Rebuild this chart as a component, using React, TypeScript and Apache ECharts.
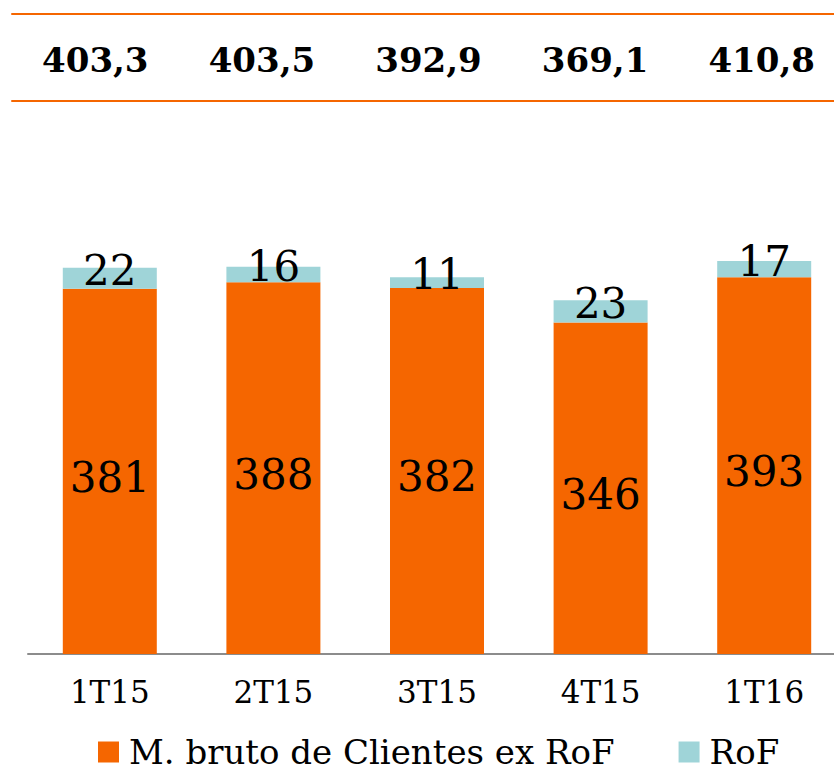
import React, { useEffect, useRef } from "react";
import * as echarts from "echarts";

const categories = ["1T15", "2T15", "3T15", "4T15", "1T16"];
const clientesExRoF = [381, 388, 382, 346, 393];
const rof = [22, 16, 11, 23, 17];
const totals = ["403,3", "403,5", "392,9", "369,1", "410,8"];

const ORANGE = "#F56600";
const TEAL = "#9FD4D8";
const FONT = "DejaVu Serif";

export default function App() {
  const ref = useRef<HTMLDivElement>(null);
  useEffect(() => {
    if (!ref.current) return;
    const chart = echarts.init(ref.current, null, { renderer: "svg" });
    chart.setOption({
      animation: false,
      textStyle: { fontFamily: FONT },
      grid: [
        { left: 28, top: 101, width: 818, height: 553, containLabel: false, outerBoundsMode: "none" },
        { left: 12, top: 14, width: 833, height: 87, containLabel: false, outerBoundsMode: "none" },
      ],
      legend: {
        left: 98,
        top: 735,
        padding: 0,
        itemWidth: 21,
        itemHeight: 21,
        itemGap: 64,
        icon: "rect",
        textStyle: { fontFamily: FONT, fontSize: 34, lineHeight: 30, color: "#000", padding: [0, 0, 0, 5] },
        data: ["M. bruto de Clientes ex RoF", "RoF"],
      },
      xAxis: [
        {
          type: "category",
          gridIndex: 0,
          data: categories,
          position: "bottom",
          axisLine: { show: true, onZero: false, lineStyle: { color: "#8c8c8c", width: 2 } },
          axisTick: { show: false },
          axisLabel: { fontFamily: FONT, fontSize: 31, color: "#000", margin: 22 },
        },
        {
          type: "category",
          gridIndex: 1,
          data: totals,
          position: "top",
          axisLine: { show: true, onZero: false, lineStyle: { color: ORANGE, width: 2 } },
          axisTick: { show: false },
          axisLabel: { inside: true, fontFamily: FONT, fontSize: 34, fontWeight: "bold", color: "#000", margin: 29 },
        },
        {
          type: "category",
          gridIndex: 1,
          data: totals,
          position: "bottom",
          axisLine: { show: true, onZero: false, lineStyle: { color: ORANGE, width: 2 } },
          axisTick: { show: false },
          axisLabel: { show: false },
        },
      ],
      yAxis: [
        { type: "value", gridIndex: 0, min: 0, max: 577, show: false, splitLine: { show: false } },
        { type: "value", gridIndex: 1, min: 0, max: 1, show: false, splitLine: { show: false } },
      ],
      series: [
        {
          name: "M. bruto de Clientes ex RoF",
          type: "bar",
          stack: "total",
          data: clientesExRoF,
          barWidth: 94,
          itemStyle: { color: ORANGE },
          label: { show: true, position: "inside", offset: [0, 6], fontFamily: FONT, fontSize: 42, color: "#000" },
        },
        {
          name: "RoF",
          type: "bar",
          stack: "total",
          data: rof,
          barWidth: 94,
          itemStyle: { color: TEAL },
          label: { show: true, position: "inside", offset: [0, -8], fontFamily: FONT, fontSize: 42, color: "#000" },
        },
      ],
    });
    return () => chart.dispose();
  }, []);
  return <div ref={ref} style={{ position: "absolute", left: 0, top: 0, width: 834, height: 772 }} />;
}
